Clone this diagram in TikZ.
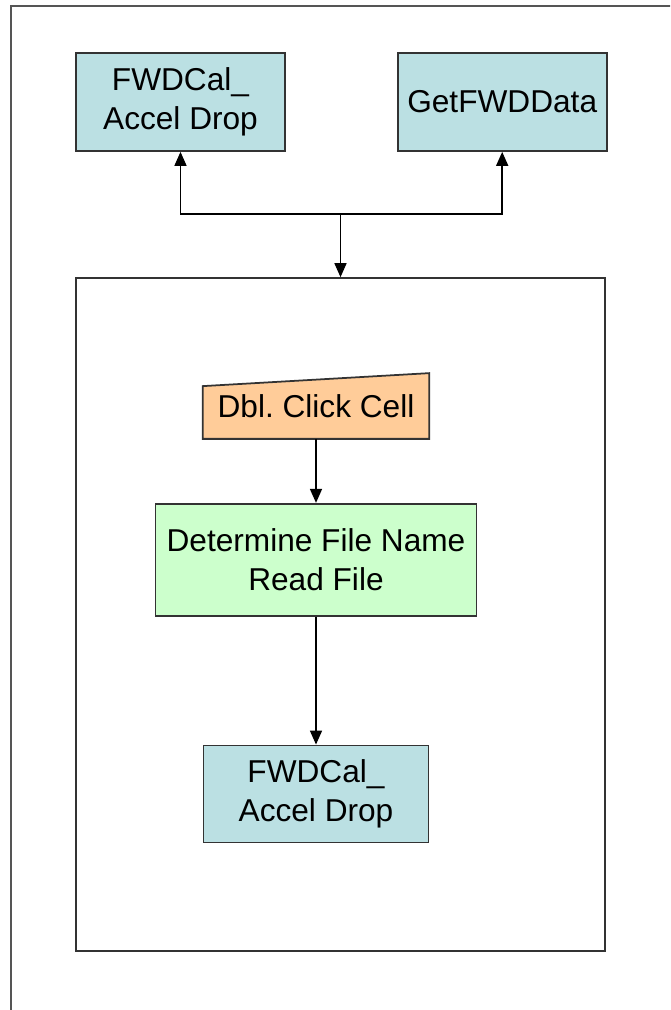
\documentclass[tikz,border=0pt]{standalone}
\usepackage{fontspec}
\setmainfont{Liberation Sans}
\usetikzlibrary{arrows.meta, positioning, backgrounds, calc}
\definecolor{boxcyan}{RGB}{187,224,227}
\definecolor{boxmint}{RGB}{204,255,204}
\definecolor{boxpeach}{RGB}{255,204,153}
\definecolor{edgegray}{RGB}{51,51,51}
\definecolor{framegray}{RGB}{85,85,85}
\tikzset{
  basebox/.style={rectangle,draw=edgegray,line width=1pt,align=center,font=\fontsize{18}{22}\selectfont,inner sep=0pt},
  procnode/.style={basebox,fill=boxcyan,minimum width=4.18cm,minimum height=1.96cm},
  readnode/.style={basebox,fill=boxmint,minimum width=6.42cm,minimum height=2.24cm},
  clicknode/.style={basebox,draw=none,minimum width=4.5cm,minimum height=1.28cm},
  clickshape/.style={draw=edgegray,fill=boxpeach,line width=1pt},
  groupnode/.style={rectangle,draw=edgegray,line width=1pt,minimum width=10.58cm,minimum height=13.46cm},
  framepen/.style={draw=framegray,line width=1.2pt},
  arr/.style={-{Triangle[length=0.28cm,width=0.24cm]},line width=0.9pt,color=black}
}

\begin{document}
\begin{tikzpicture}[x=0.02cm,y=-0.02cm]
  \useasboundingbox (0,0) rectangle (670,1010);
  \clip (0,0) rectangle (670,1010);
  \draw[framepen] (11,1030) |- (690,6);

  \node[procnode] (fwdtop) at (180.5,102) {FWDCal\_\\Accel Drop};
  \node[procnode,right=2.22cm of fwdtop] (getdata) {GetFWDData};
  \node[groupnode] (group) at (340.5,614.5) {};
  \node[clicknode] (dblclick) at (316,406) {Dbl.\ Click Cell};
  \node[readnode,below=1.28cm of dblclick] (readfile) {Determine File Name\\Read File};
  \node[procnode,minimum width=4.5cm,minimum height=1.94cm,below=2.56cm of readfile] (fwdinner) {FWDCal\_\\Accel Drop};
  \begin{scope}[on background layer]
    \draw[clickshape] (dblclick.south west) -- (dblclick.south east) -- (dblclick.north east) -- ($(dblclick.north west)+(0,13)$) -- cycle;
  \end{scope}

  \coordinate (split) at (340.5,214);
  \draw[arr] (split) -- (group.north);
  \draw[arr] (split) -| (fwdtop.south);
  \draw[arr] (split) -| (getdata.south);
  \draw[arr] (dblclick.south) -- (readfile.north);
  \draw[arr] (readfile.south) -- (fwdinner.north);
\end{tikzpicture}
\end{document}
